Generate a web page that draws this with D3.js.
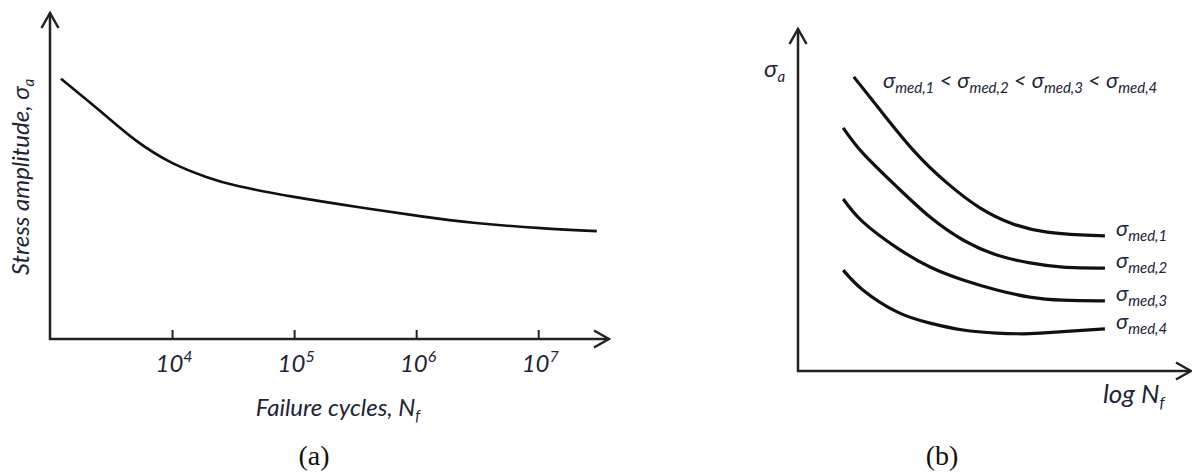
<!DOCTYPE html>
<html lang="en">
  <head>
    <meta charset="UTF-8" />
    <title>S-N curves</title>
    <style>
      body { margin: 0; background: #fff; }
      svg { display: block; }
      .axisline { fill: none; stroke: #222; stroke-width: 2.5; }
      .curve { fill: none; stroke: #111; stroke-width: 2.6; }
      .curveb { fill: none; stroke: #111; stroke-width: 3.2; }
      .tick line { stroke: #222; stroke-width: 2; }
      .lbl { font-family: Lato, "Noto Sans", sans-serif; font-style: italic; fill: #202437; }
      .cap { font-family: "Liberation Serif", "Times New Roman", serif; font-size: 28px; fill: #111; }
    </style>
  </head>
  <body>
    <div id="container"></div>
  </body>
  <script src="https://cdnjs.cloudflare.com/ajax/libs/d3/7.8.5/d3.min.js"></script>
  <script>
    // (a) one S-N curve, x in log10(N)
    let logNA = [3.09, 3.43, 3.70, 4.0, 4.28, 4.54, 5.0, 5.52, 6.03, 6.49, 7.02, 7.48];
    let stressA = [79.8, 69.3, 61.0, 54.0, 49.7, 46.9, 43.6, 40.5, 37.7, 35.6, 34.0, 33.1];
    let tickExpA = [4, 5, 6, 7];

    // (b) four curves, arbitrary units
    let logNB1 = [14.2, 20.9, 29.3, 37.9, 46.3, 54.7, 63.4, 71.8, 78.1];
    let logNB = [11.5, 16.5, 25.2, 33.6, 42.0, 50.6, 59.0, 67.4, 78.1];
    let stressB1 = [86.0, 76.3, 64.6, 55.0, 47.7, 43.0, 40.6, 39.8, 39.5];
    let stressB2 = [71.1, 63.7, 53.8, 45.0, 38.3, 33.9, 31.6, 30.4, 30.1];
    let stressB3 = [50.3, 43.6, 36.0, 30.4, 26.6, 23.7, 21.6, 20.7, 20.5];
    let stressB4 = [29.5, 23.7, 17.3, 14.0, 12.0, 11.1, 10.9, 11.5, 12.3];
    let medNames = ["med,1", "med,2", "med,3", "med,4"];

    let width = 1192,
      height = 472;

    let svg = d3
      .select("#container")
      .append("svg")
      .attr("width", width)
      .attr("height", height);

    // open arrow head
    svg
      .append("defs")
      .append("marker")
      .attr("id", "arrow")
      .attr("markerUnits", "userSpaceOnUse")
      .attr("viewBox", "-18 -11 20 22")
      .attr("markerWidth", 20)
      .attr("markerHeight", 22)
      .attr("refX", 0)
      .attr("refY", 0)
      .attr("orient", "auto-start-reverse")
      .append("path")
      .attr("d", "M-15,-8.5L0,0L-15,8.5")
      .attr("fill", "none")
      .attr("stroke", "#222")
      .attr("stroke-width", 2.5);

    // ---------- panel (a)
    let xA = d3.scaleLinear().domain([3, 7.58]).range([50, 609]);
    let yA = d3.scaleLinear().domain([0, 100]).range([339, 13]);

    let gA = svg.append("g");

    let xAxisA = d3
      .axisBottom(xA)
      .tickValues(tickExpA)
      .tickSize(-9)
      .tickSizeOuter(0)
      .tickFormat("");
    let ax = gA.append("g").attr("transform", `translate(0,${yA(0)})`).call(xAxisA);
    ax.select(".domain").remove();

    gA.append("path")
      .attr("class", "axisline")
      .attr("d", d3.line()([[xA(3), yA(100)], [xA(3), yA(0)], [xA(7.58), yA(0)]]))
      .attr("marker-start", "url(#arrow)")
      .attr("marker-end", "url(#arrow)");

    let lineA = d3
      .line()
      .x((d, i) => xA(logNA[i]))
      .y((d) => yA(d))
      .curve(d3.curveNatural);
    gA.append("path").attr("class", "curve").attr("d", lineA(stressA));

    // tick labels 10^k
    let tl = gA
      .selectAll(".ticklbl")
      .data(tickExpA)
      .join("text")
      .attr("class", "lbl")
      .attr("x", (d) => xA(d) + 2)
      .attr("y", 372)
      .attr("text-anchor", "middle")
      .style("font-size", "24px");
    tl.append("tspan").text("10");
    tl.append("tspan")
      .attr("dy", -10)
      .style("font-size", "16px")
      .text((d) => d);

    let xt = gA
      .append("text")
      .attr("class", "lbl")
      .attr("x", 338)
      .attr("y", 416)
      .attr("text-anchor", "middle")
      .style("font-size", "24px");
    xt.append("tspan").text("Failure cycles, N");
    xt.append("tspan").attr("dy", 5).style("font-size", "15px").text("f");

    let yt = gA
      .append("text")
      .attr("class", "lbl")
      .attr("transform", "translate(29,177) rotate(-90)")
      .attr("text-anchor", "middle")
      .style("font-size", "24px");
    yt.append("tspan").text("Stress amplitude, σ");
    yt.append("tspan").attr("dy", 5).style("font-size", "15px").text("a");

    gA.append("text")
      .attr("class", "cap")
      .attr("x", 314)
      .attr("y", 465)
      .attr("text-anchor", "middle")
      .text("(a)");

    // ---------- panel (b)
    let xB = d3.scaleLinear().domain([0, 100]).range([798, 1191]);
    let yB = d3.scaleLinear().domain([0, 100]).range([371, 29]);

    let gB = svg.append("g");

    gB.append("path")
      .attr("class", "axisline")
      .attr("d", d3.line()([[xB(0), yB(100)], [xB(0), yB(0)], [xB(100), yB(0)]]))
      .attr("marker-start", "url(#arrow)")
      .attr("marker-end", "url(#arrow)");

    let seriesB = [
      { x: logNB1, y: stressB1, name: medNames[0] },
      { x: logNB, y: stressB2, name: medNames[1] },
      { x: logNB, y: stressB3, name: medNames[2] },
      { x: logNB, y: stressB4, name: medNames[3] },
    ];

    seriesB.forEach((s) => {
      let line = d3
        .line()
        .x((d, i) => xB(s.x[i]))
        .y((d) => yB(d))
        .curve(d3.curveNatural);
      gB.append("path").attr("class", "curveb").attr("d", line(s.y));

      let last = s.y.length - 1;
      let t = gB
        .append("text")
        .attr("class", "lbl")
        .attr("x", xB(s.x[last]) + 11)
        .attr("y", yB(s.y[last]))
        .style("font-size", "22px");
      t.append("tspan").text("σ");
      t.append("tspan").attr("dy", 5).style("font-size", "15px").text(s.name);
    });

    // ordering note at top
    let order = gB
      .append("text")
      .attr("class", "lbl")
      .attr("x", 883)
      .attr("y", 88)
      .style("font-size", "22px");
    medNames.forEach((n, i) => {
      if (i > 0) order.append("tspan").attr("dy", -5).text(" < ");
      order.append("tspan").text("σ");
      order.append("tspan").attr("dy", 5).style("font-size", "15px").text(n);
    });

    let sa = gB
      .append("text")
      .attr("class", "lbl")
      .attr("x", 764)
      .attr("y", 77)
      .style("font-size", "24px");
    sa.append("tspan").text("σ");
    sa.append("tspan").attr("dy", 5).style("font-size", "15px").text("a");

    let ln = gB
      .append("text")
      .attr("class", "lbl")
      .attr("x", 1103)
      .attr("y", 403)
      .style("font-size", "26px");
    ln.append("tspan").text("log N");
    ln.append("tspan").attr("dy", 5).style("font-size", "16px").text("f");

    gB.append("text")
      .attr("class", "cap")
      .attr("x", 942)
      .attr("y", 465)
      .attr("text-anchor", "middle")
      .text("(b)");
  </script>
</html>
